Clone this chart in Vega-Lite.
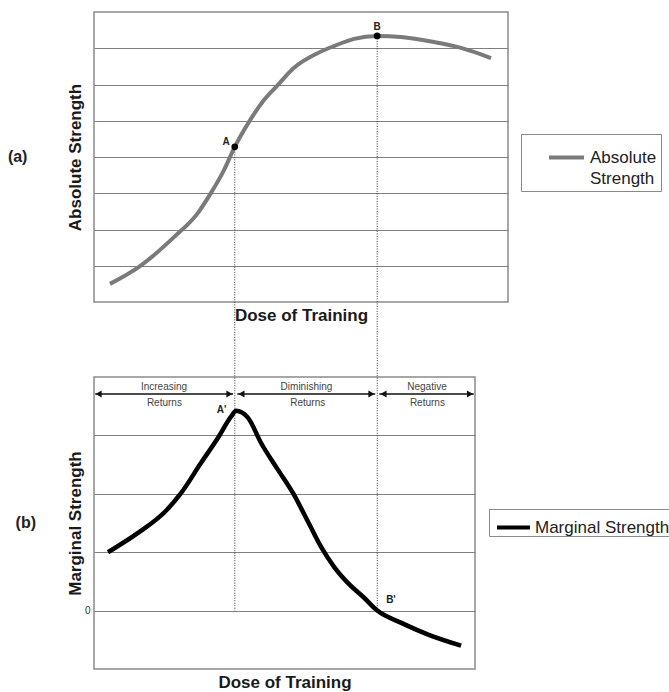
{
  "$schema": "https://vega.github.io/schema/vega-lite/v6.json",
  "background": "white",
  "padding": {"left": 7, "top": 11, "right": 0, "bottom": 0},
  "bounds": "flush",
  "spacing": 75,
  "config": {
    "font": "Liberation Sans",
    "view": {"stroke": "#8a8a8a", "strokeWidth": 1.5},
    "axis": {
      "grid": true, "gridColor": "#7f7f7f", "gridWidth": 1.2,
      "domain": false, "ticks": false,
      "labelFont": "Liberation Sans", "labelColor": "#333", "labelFontSize": 10, "labelPadding": 4,
      "titleFont": "Liberation Sans", "titleFontWeight": "bold", "titleFontSize": 17, "titleColor": "#1a1a1a"
    },
    "legend": {
      "symbolType": "stroke", "symbolStrokeWidth": 4, "symbolSize": 1225,
      "labelFont": "Liberation Sans", "labelFontSize": 17, "labelColor": "#222",
      "strokeColor": "#8a8a8a", "fillColor": "white", "padding": 4, "labelOffset": 4
    }
  },
  "datasets": {
    "absolute": [
      {"x": 3.86, "y": 0.50, "series": "Absolute Strength"},
      {"x": 10.87, "y": 0.97, "series": "Absolute Strength"},
      {"x": 19.32, "y": 1.79, "series": "Absolute Strength"},
      {"x": 25.12, "y": 2.46, "series": "Absolute Strength"},
      {"x": 28.26, "y": 3.01, "series": "Absolute Strength"},
      {"x": 31.40, "y": 3.64, "series": "Absolute Strength"},
      {"x": 34.0, "y": 4.28, "series": "Absolute Strength"},
      {"x": 37.44, "y": 4.97, "series": "Absolute Strength"},
      {"x": 41.06, "y": 5.57, "series": "Absolute Strength"},
      {"x": 44.44, "y": 5.99, "series": "Absolute Strength"},
      {"x": 48.31, "y": 6.46, "series": "Absolute Strength"},
      {"x": 54.11, "y": 6.87, "series": "Absolute Strength"},
      {"x": 57.97, "y": 7.06, "series": "Absolute Strength"},
      {"x": 62.80, "y": 7.26, "series": "Absolute Strength"},
      {"x": 68.4, "y": 7.34, "series": "Absolute Strength"},
      {"x": 74.15, "y": 7.31, "series": "Absolute Strength"},
      {"x": 82.13, "y": 7.17, "series": "Absolute Strength"},
      {"x": 88.65, "y": 7.01, "series": "Absolute Strength"},
      {"x": 95.89, "y": 6.73, "series": "Absolute Strength"}
    ],
    "marginal": [
      {"x": 3.38, "y": 1.00, "series": "Marginal Strength"},
      {"x": 10.63, "y": 1.33, "series": "Marginal Strength"},
      {"x": 17.39, "y": 1.71, "series": "Marginal Strength"},
      {"x": 21.01, "y": 2.01, "series": "Marginal Strength"},
      {"x": 25.85, "y": 2.53, "series": "Marginal Strength"},
      {"x": 29.95, "y": 2.96, "series": "Marginal Strength"},
      {"x": 33.09, "y": 3.32, "series": "Marginal Strength"},
      {"x": 34.3, "y": 3.42, "series": "Marginal Strength"},
      {"x": 37.20, "y": 3.30, "series": "Marginal Strength"},
      {"x": 40.34, "y": 2.87, "series": "Marginal Strength"},
      {"x": 44.44, "y": 2.41, "series": "Marginal Strength"},
      {"x": 48.07, "y": 2.01, "series": "Marginal Strength"},
      {"x": 51.69, "y": 1.52, "series": "Marginal Strength"},
      {"x": 54.83, "y": 1.09, "series": "Marginal Strength"},
      {"x": 57.97, "y": 0.75, "series": "Marginal Strength"},
      {"x": 61.35, "y": 0.47, "series": "Marginal Strength"},
      {"x": 65.22, "y": 0.22, "series": "Marginal Strength"},
      {"x": 68.4, "y": 0.0, "series": "Marginal Strength"},
      {"x": 74.2, "y": -0.21, "series": "Marginal Strength"},
      {"x": 80.68, "y": -0.41, "series": "Marginal Strength"},
      {"x": 88.65, "y": -0.60, "series": "Marginal Strength"}
    ],
    "topGuides": [
      {"x": 34.0, "y": 4.28, "y2": -1.05},
      {"x": 68.4, "y": 7.34, "y2": -1.05}
    ],
    "topPoints": [
      {"x": 34.0, "y": 4.28, "label": "A", "lx": 31.9, "ly": 4.41},
      {"x": 68.4, "y": 7.34, "label": "B", "lx": 68.4, "ly": 7.59}
    ],
    "bottomGuides": [
      {"x": 34.0, "y": 4.63, "y2": 0},
      {"x": 68.4, "y": 4.63, "y2": 0}
    ],
    "arrows": [
      {"x": 0.3, "x2": 33.6, "y": 3.71},
      {"x": 34.6, "x2": 67.9, "y": 3.71},
      {"x": 68.9, "x2": 91.7, "y": 3.71}
    ],
    "arrowHeads": [
      {"x": 1.1, "y": 3.71, "dir": "left"},
      {"x": 32.7, "y": 3.71, "dir": "right"},
      {"x": 35.6, "y": 3.71, "dir": "left"},
      {"x": 67.0, "y": 3.71, "dir": "right"},
      {"x": 69.9, "y": 3.71, "dir": "left"},
      {"x": 90.8, "y": 3.71, "dir": "right"}
    ],
    "regionLabels": [
      {"x": 16.9, "y": 3.78, "text": "Increasing"},
      {"x": 17.0, "y": 3.50, "text": "Returns"},
      {"x": 51.3, "y": 3.78, "text": "Diminishing"},
      {"x": 51.6, "y": 3.50, "text": "Returns"},
      {"x": 80.4, "y": 3.78, "text": "Negative"},
      {"x": 80.5, "y": 3.50, "text": "Returns"}
    ],
    "bottomLabels": [
      {"x": 30.8, "y": 3.43, "text": "A'"},
      {"x": 71.7, "y": 0.18, "text": "B'"}
    ]
  },
  "resolve": {
    "scale": {"color": "independent", "x": "independent", "y": "independent", "shape": "independent"},
    "legend": {"color": "independent"}
  },
  "vconcat": [
    {
      "width": 414,
      "height": 290,
      "title": {"text": "(a)", "orient": "left", "angle": 0, "align": "right", "baseline": "middle", "anchor": "middle", "offset": 19, "fontSize": 16, "fontWeight": "bold", "color": "#222", "font": "Liberation Sans"},
      "encoding": {
        "x": {"field": "x", "type": "quantitative", "scale": {"domain": [0, 100], "nice": false, "zero": false},
              "axis": {"title": "Dose of Training", "labels": false, "grid": false, "titlePadding": 5}},
        "y": {"field": "y", "type": "quantitative", "scale": {"domain": [0, 8], "nice": false},
              "axis": {"title": "Absolute Strength", "labels": false, "values": [1, 2, 3, 4, 5, 6, 7], "titlePadding": 10}}
      },
      "layer": [
        {
          "data": {"name": "topGuides"},
          "mark": {"type": "rule", "color": "#333", "strokeWidth": 1, "strokeDash": [1, 1.5]},
          "encoding": {"y2": {"field": "y2"}}
        },
        {
          "data": {"name": "absolute"},
          "mark": {"type": "line", "strokeWidth": 4, "interpolate": "monotone"},
          "encoding": {
            "color": {"field": "series", "type": "nominal",
                      "scale": {"domain": ["Absolute Strength"], "range": ["#7a7a7a"]},
                      "legend": {"title": null, "orient": "none", "legendX": 427, "legendY": 122, "symbolOffset": 22,
                                 "labelExpr": "split(datum.label, ' ')",
                                 "encode": {"labels": {"update": {"lineHeight": {"value": 21}}}}}}
          }
        },
        {
          "data": {"name": "topPoints"},
          "mark": {"type": "point", "filled": true, "color": "black", "size": 45, "opacity": 1}
        },
        {
          "data": {"name": "topPoints"},
          "mark": {"type": "text", "fontSize": 10, "fontWeight": "bold", "color": "#222"},
          "encoding": {
            "x": {"field": "lx", "type": "quantitative"},
            "y": {"field": "ly", "type": "quantitative"},
            "text": {"field": "label"}
          }
        }
      ]
    },
    {
      "width": 381,
      "height": 292,
      "title": {"text": "(b)", "orient": "left", "angle": 0, "align": "right", "baseline": "middle", "anchor": "middle", "offset": 10, "fontSize": 16, "fontWeight": "bold", "color": "#222", "font": "Liberation Sans"},
      "encoding": {
        "x": {"field": "x", "type": "quantitative", "scale": {"domain": [0, 92], "nice": false, "zero": false},
              "axis": {"title": "Dose of Training", "labels": false, "grid": false, "titlePadding": 5}},
        "y": {"field": "y", "type": "quantitative", "scale": {"domain": [-1, 4], "nice": false, "zero": false},
              "axis": {"title": "Marginal Strength", "values": [0, 1, 2, 3], "labelExpr": "datum.value == 0 ? '0' : ''", "titlePadding": 0}}
      },
      "layer": [
        {
          "data": {"name": "bottomGuides"},
          "mark": {"type": "rule", "color": "#333", "strokeWidth": 1, "strokeDash": [1, 1.5]},
          "encoding": {"y2": {"field": "y2"}}
        },
        {
          "data": {"name": "arrows"},
          "mark": {"type": "rule", "color": "#111", "strokeWidth": 1.5},
          "encoding": {"x2": {"field": "x2"}}
        },
        {
          "data": {"name": "arrowHeads"},
          "mark": {"type": "point", "filled": true, "color": "#111", "size": 50, "opacity": 1},
          "encoding": {
            "shape": {"field": "dir", "type": "nominal",
                      "scale": {"domain": ["left", "right"], "range": ["triangle-left", "triangle-right"]},
                      "legend": null}
          }
        },
        {
          "data": {"name": "regionLabels"},
          "mark": {"type": "text", "fontSize": 10, "color": "#444", "baseline": "alphabetic"},
          "encoding": {"text": {"field": "text"}}
        },
        {
          "data": {"name": "marginal"},
          "mark": {"type": "line", "strokeWidth": 4.5, "interpolate": "monotone"},
          "encoding": {
            "color": {"field": "series", "type": "nominal",
                      "scale": {"domain": ["Marginal Strength"], "range": ["#000000"]},
                      "legend": {"title": null, "orient": "none", "legendX": 395, "legendY": 132, "symbolOffset": 6,
                                 "symbolSize": 1089, "labelOffset": 3, "padding": 0}}
          }
        },
        {
          "data": {"name": "bottomLabels"},
          "mark": {"type": "text", "fontSize": 10, "fontWeight": "bold", "color": "#222"},
          "encoding": {"text": {"field": "text"}}
        }
      ]
    }
  ]
}
